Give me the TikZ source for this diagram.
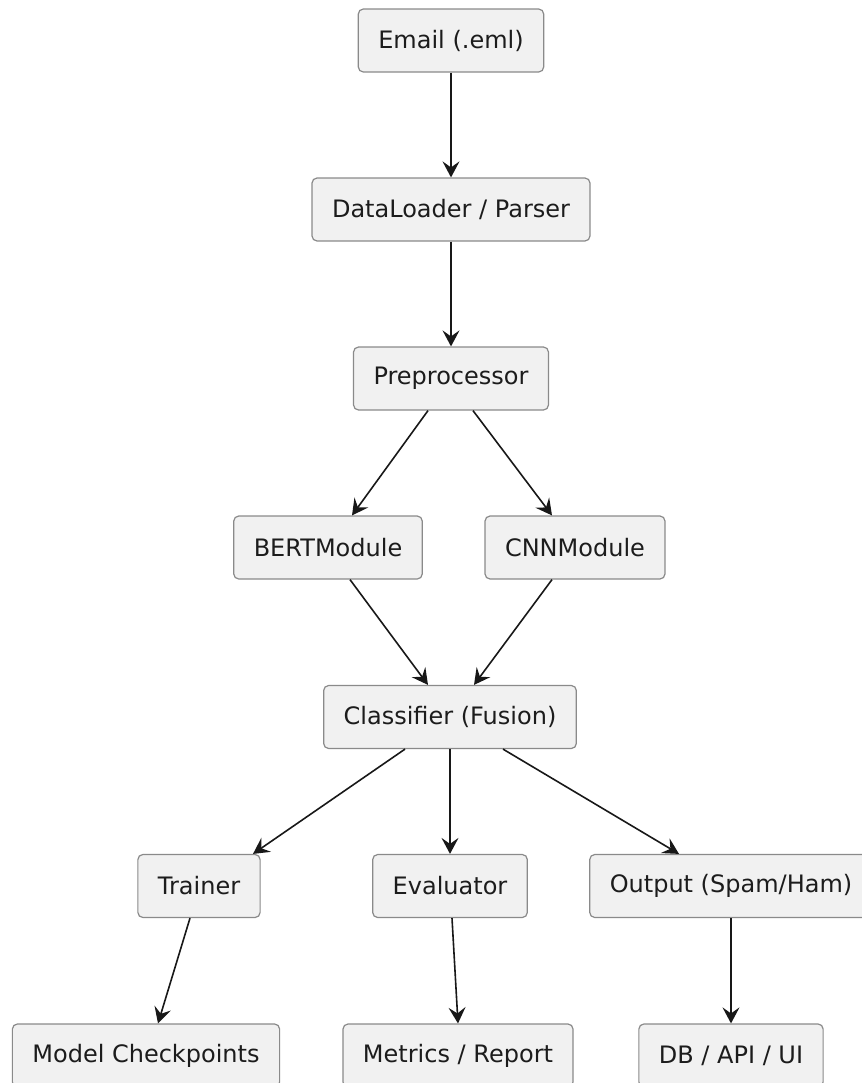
\documentclass[tikz,border=0pt]{standalone}
\usepackage{fontspec}
\setmainfont{DejaVu Sans}
\usetikzlibrary{arrows.meta}
\definecolor{boxfill}{HTML}{F1F1F1}
\definecolor{boxline}{HTML}{8A8A8A}
\definecolor{flowline}{HTML}{181818}
\definecolor{stagetext}{HTML}{1C1C1C}
\tikzset{
  stage/.style = {shape=rectangle, rounded corners=2.5pt,
                  draw=boxline, line width=0.6pt, fill=boxfill,
                  align=center, inner xsep=10pt,
                  minimum height=31.5pt, text=stagetext},
  flow/.style  = {draw=flowline, line width=0.8pt,
                  -{Stealth[length=8pt, width=8.5pt, inset=3pt]}}
}

\begin{document}
\begin{tikzpicture}
  [
    x = 0.5pt, y = -0.5pt,
    every node/.style = {font=\fontsize{12}{14}\selectfont}
  ]
  \useasboundingbox (0,0) rectangle (862,1083);

  \node [stage] (email)   at (451,40.5)   {Email (.eml)};
  \node [stage] (loader)  at (451,209.5)  {DataLoader / Parser};
  \node [stage] (prep)    at (451,378.5)  {Preprocessor};
  \node [stage] (bert)    at (328,547.5)  {BERTModule};
  \node [stage] (cnn)     at (575,547.5)  {CNNModule};
  \node [stage] (fusion)  at (450,717)    {Classifier (Fusion)};
  \node [stage] (trainer) at (199,886)    {Trainer};
  \node [stage] (eval)    at (450,886)    {Evaluator};
  \node [stage] (output)  at (731,886)    {Output (Spam/Ham)};
  \node [stage] (ckpt)    at (146,1055.5) {Model Checkpoints};
  \node [stage] (metrics) at (458,1055.5) {Metrics / Report};
  \node [stage] (db)      at (731,1055.5) {DB / API / UI};

  \draw [flow] (email) -- (loader);
  \draw [flow] (loader) -- (prep);
  \draw [flow] ([xshift=-11.5pt]prep.south) -- ([xshift=12pt]bert.north);
  \draw [flow] ([xshift=11pt]prep.south) -- ([xshift=-11.5pt]cnn.north);
  \draw [flow] ([xshift=11pt]bert.south) -- ([xshift=-11pt]fusion.north);
  \draw [flow] ([xshift=-11.5pt]cnn.south) -- ([xshift=12pt]fusion.north);
  \draw [flow] ([xshift=-22.5pt]fusion.south) -- ([xshift=27pt]trainer.north);
  \draw [flow] (fusion) -- (eval);
  \draw [flow] ([xshift=26.5pt]fusion.south) -- ([xshift=-26pt]output.north);
  \draw [flow] ([xshift=-4.5pt]trainer.south) -- ([xshift=6pt]ckpt.north);
  \draw [flow] ([xshift=1pt]eval.south) -- (metrics.north);
  \draw [flow] (output) -- (db);
\end{tikzpicture}
\end{document}
